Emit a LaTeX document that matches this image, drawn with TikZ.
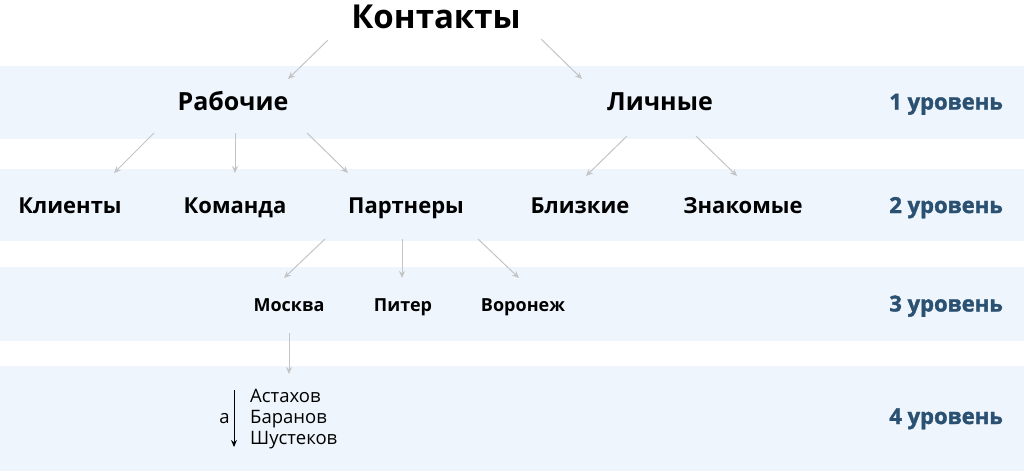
\documentclass[tikz,border=0pt]{standalone}
\usepackage{fontspec}
\setmainfont{Open Sans}
\newfontfamily\lvfont{Open Sans}[BoldFeatures={FakeBold=1.6}]
\usetikzlibrary{arrows.meta}
\definecolor{band}{HTML}{EEF5FC}
\definecolor{lvl}{HTML}{2B5172}
\definecolor{arr}{HTML}{C4C4C4}
\begin{document}
\begin{tikzpicture}[x=1pt,y=-1pt,
  t0/.style={font=\bfseries\fontsize{33}{36}\selectfont,inner sep=0pt,anchor=base},
  t1/.style={font=\bfseries\fontsize{25}{28}\selectfont,inner sep=0pt,anchor=base},
  t2/.style={font=\bfseries\fontsize{22}{26}\selectfont,inner sep=0pt,anchor=base},
  t3/.style={font=\bfseries\fontsize{18}{22}\selectfont,inner sep=0pt,anchor=base},
  nm/.style={font=\fontsize{18.5}{22}\selectfont,inner sep=0pt,anchor=base west},
  lv/.style={font=\lvfont\bfseries\fontsize{22}{26}\selectfont,text=lvl,inner sep=0pt,anchor=base east},
  conn/.style={draw=arr,line width=1pt,-{Stealth[length=7pt,width=6pt]}},
  blk/.style={draw=black,line width=1pt,-{Stealth[length=7pt,width=6pt]}}]
\useasboundingbox (0,0) rectangle (1024,472);
\fill[band] (0,66) rectangle (1024,139);
\fill[band] (0,169) rectangle (1024,241);
\fill[band] (0,267) rectangle (1024,341);
\fill[band] (0,366) rectangle (1024,471);
% texts
\node[t0] (kon) at (436,28) {Контакты};
\node[t1] (rab) at (233,110) {Рабочие};
\node[t1] (lich) at (660,110) {Личные};
\node[t2] (kli) at (70,213) {Клиенты};
\node[t2] (kom) at (235,213) {Команда};
\node[t2] (par) at (406,213) {Партнеры};
\node[t2] (bli) at (580,213) {Близкие};
\node[t2] (zna) at (743,213) {Знакомые};
\node[t3] (mos) at (289,311.5) {Москва};
\node[t3] (pit) at (403,311.5) {Питер};
\node[t3] (vor) at (523,311.5) {Воронеж};
\node[nm] (ast) at (250,402.5) {Астахов};
\node[nm] (bar) at (250,423.5) {Баранов};
\node[nm] (shu) at (250,444.5) {Шустеков};
\node[font=\fontsize{18.5}{22}\selectfont,inner sep=0pt,anchor=base] (aa) at (224.5,423.5) {а};
\node[lv] (l1) at (1003,109.5) {1 уровень};
\node[lv] (l2) at (1003,213) {2 уровень};
\node[lv] (l3) at (1003,311.5) {3 уровень};
\node[lv] (l4) at (1003,424) {4 уровень};
% connector end points
\coordinate (k1) at (328,40);  \coordinate (r0) at (288,79);
\coordinate (k2) at (541,39);  \coordinate (li0) at (582,79);
\coordinate (r1) at (154,133); \coordinate (kl0) at (114,173);
\coordinate (r2) at (235,133); \coordinate (ko0) at (235,173);
\coordinate (r3) at (307,133); \coordinate (pa0) at (348,173);
\coordinate (li1) at (627,136); \coordinate (bl0) at (586,176);
\coordinate (li2) at (696,136); \coordinate (zn0) at (737,176);
\coordinate (p1) at (325,239); \coordinate (mo0) at (284,278);
\coordinate (p2) at (402,239); \coordinate (pi0) at (402,278);
\coordinate (p3) at (478,239); \coordinate (vo0) at (519,278);
\coordinate (m1) at (289,333); \coordinate (as0) at (289,374);
\coordinate (s1) at (234,390); \coordinate (s2) at (234,447);
\draw[conn] (k1) -- (r0);
\draw[conn] (k2) -- (li0);
\draw[conn] (r1) -- (kl0);
\draw[conn] (r2) -- (ko0);
\draw[conn] (r3) -- (pa0);
\draw[conn] (li1) -- (bl0);
\draw[conn] (li2) -- (zn0);
\draw[conn] (p1) -- (mo0);
\draw[conn] (p2) -- (pi0);
\draw[conn] (p3) -- (vo0);
\draw[conn] (m1) -- (as0);
\draw[blk] (s1) -- (s2);
\end{tikzpicture}
\end{document}
